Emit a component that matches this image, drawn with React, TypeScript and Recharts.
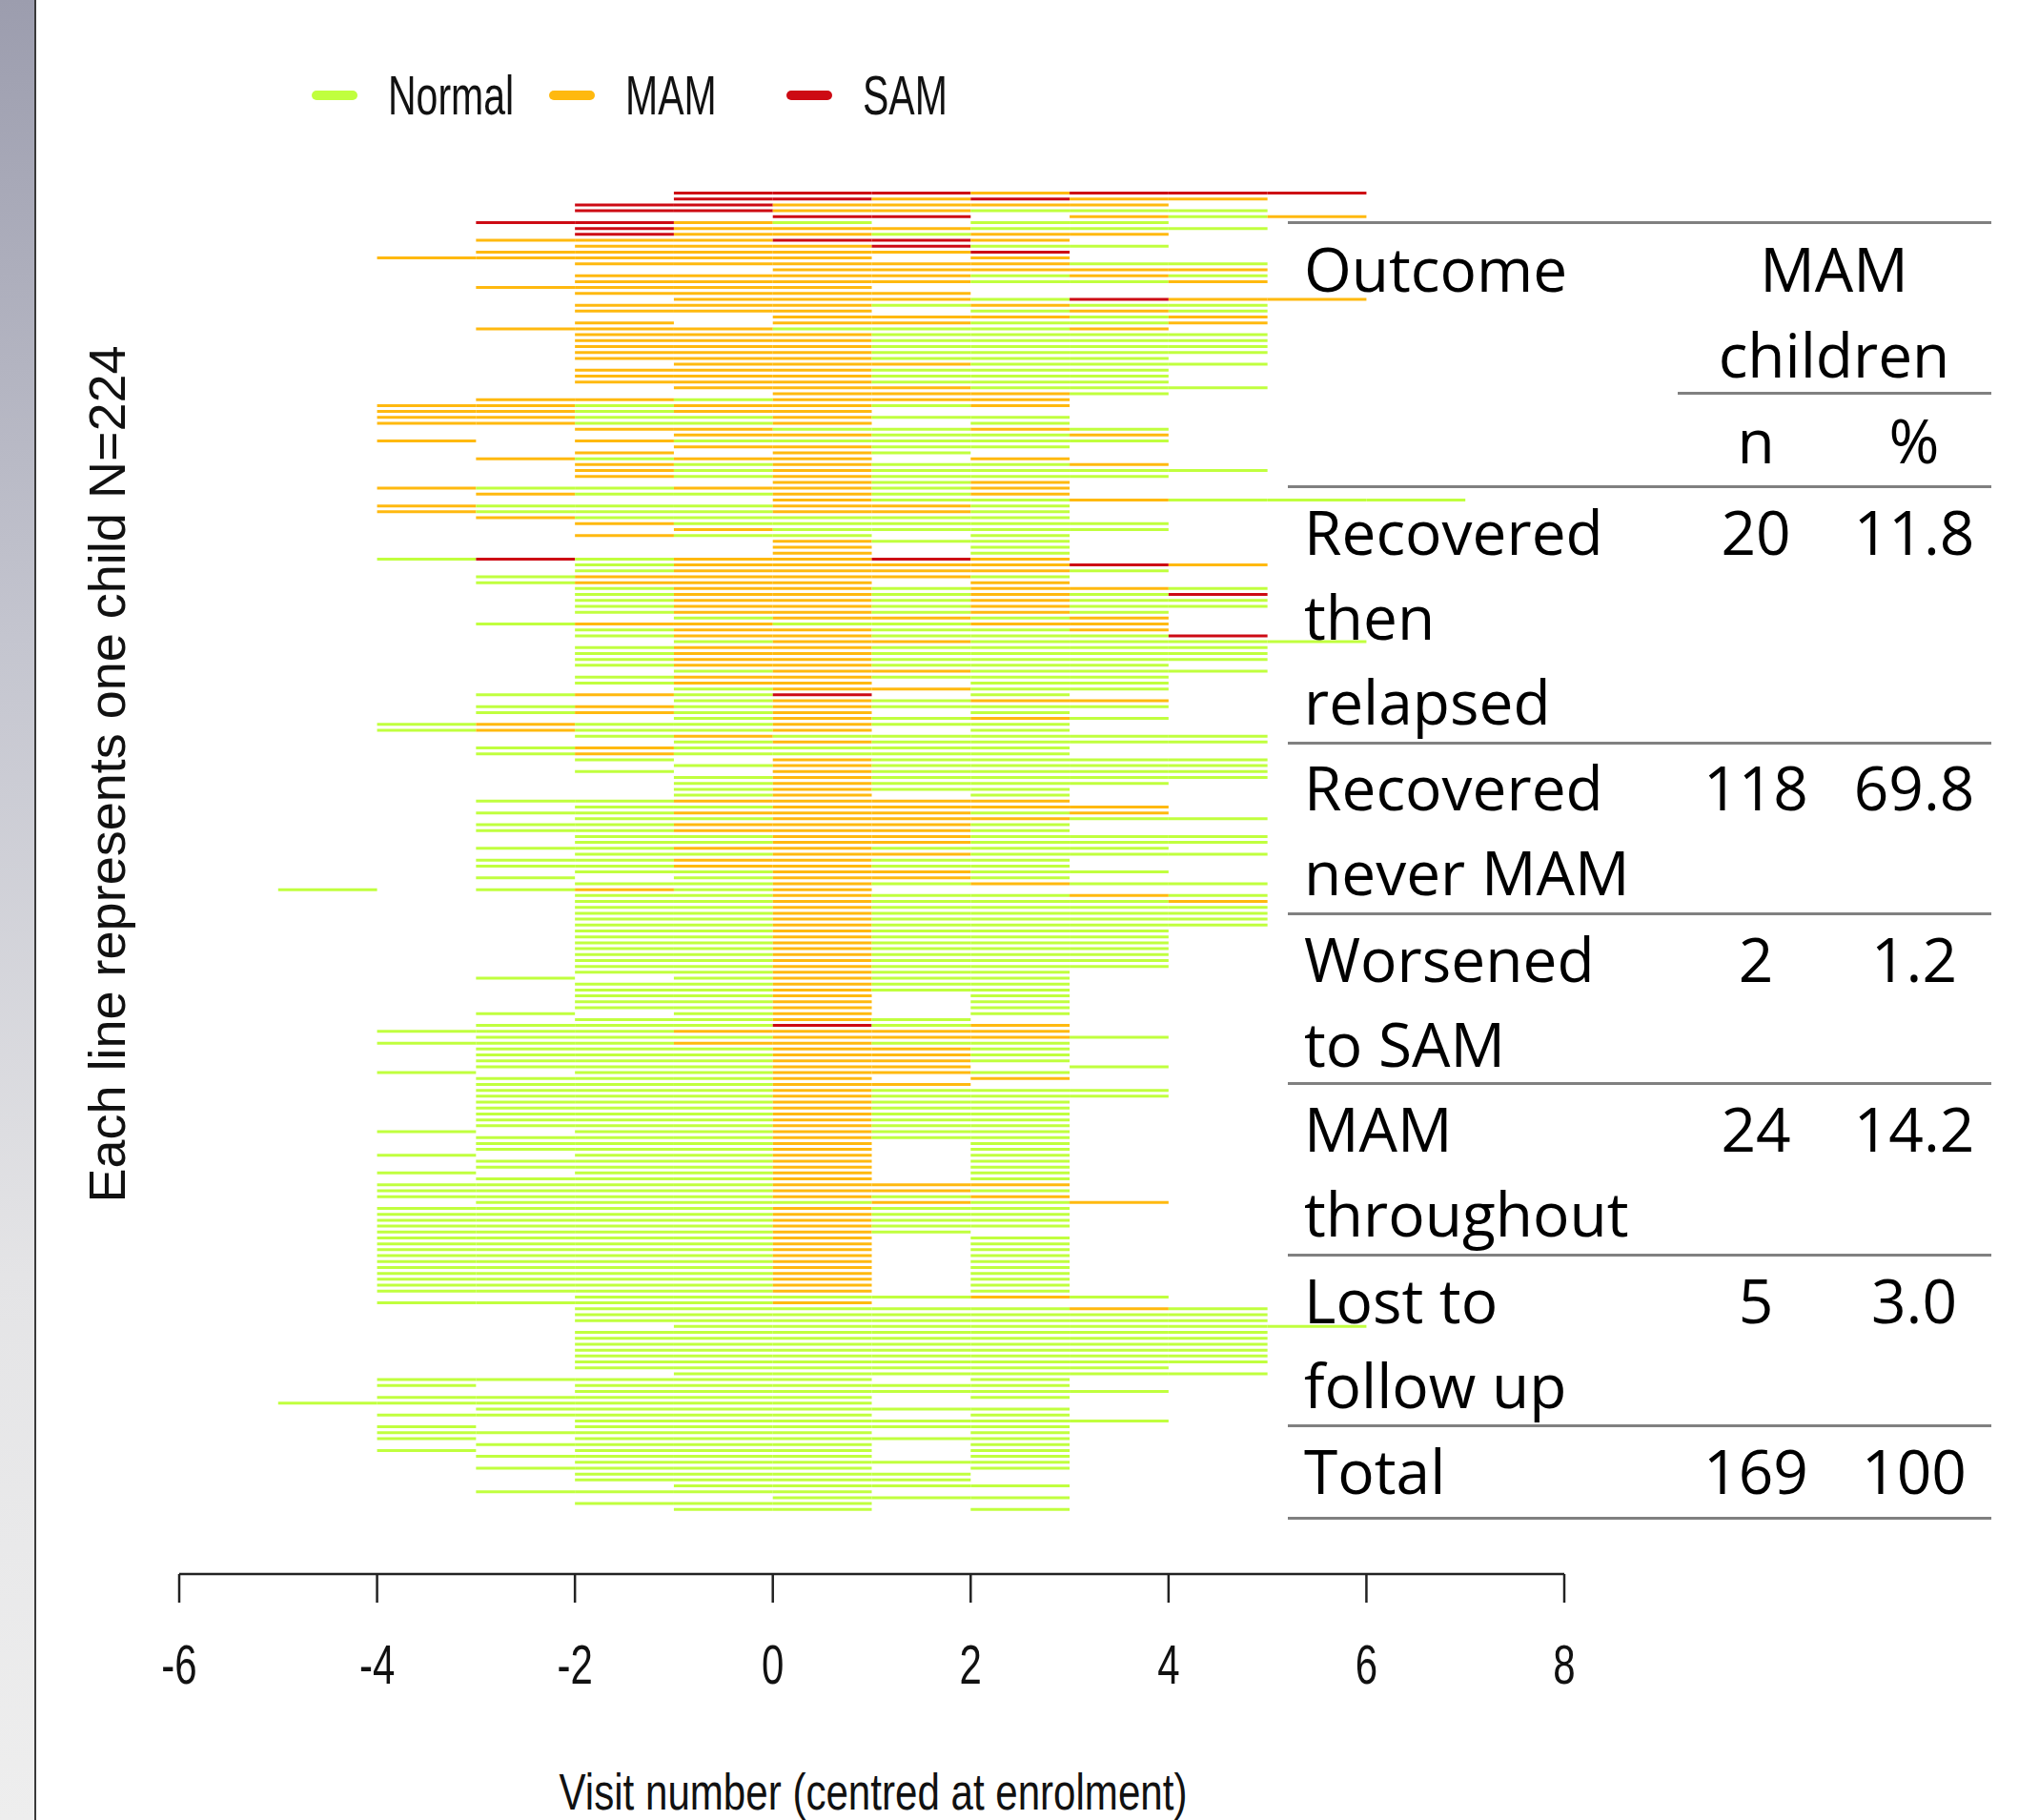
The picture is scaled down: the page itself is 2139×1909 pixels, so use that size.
import { BarChart, Bar, XAxis, YAxis, Cell } from 'recharts';

// one string per child: first visit, then the status over each visit interval
// N = Normal, M = MAM, S = SAM, _ = missed visit
const rowsTop = [
  '-1:SSSMSSS', '-1:SSMSMM', '-2:SSMMMM', '-2:SSMMNNN', '0:SS_MNM', '-3:SSMN_NN',
  '-2:SMMMNNN', '-2:SMMNMM', '-3:MMMSSM', '-2:MMMSNN', '-3:MMMMMS', '-4:MMMMM_M',
  '-2:MMMMMNN', '0:MMMMM', '-2:MMMMNMN', '-2:MMMMNNM', '-3:MMMM', '-2:MMMM',
  '-1:MMMNSMM', '-2:MMMNMNN', '-2:MMM_NMN', '0:MMMNM', '-2:M_MMNNM', '-3:MMMNNNM',
  '-2:MMMNNNN', '-2:MMMNNNN', '-2:MMMNNNN', '-2:MMMNNNN', '-2:MMMNNN', '-1:MMMNNN',
  '-2:MMMNNN', '-2:MMMNNN', '-2:MMMNNN', '-1:MMMNNN', '0:MMMN', '-3:MMNMMM',
  '-4:MMNMMNM', '-4:MMNMM', '-4:MMNNMNN', '-4:MMNNM_N', '-2:MMNNMN', '-1:MMNNM',
  '-4:M_MNNNNN', '-1:MMNN', '-2:M_MN', '-3:MNMM_M',
];

const rowsUpper = [
  '-2:MNMNNM', '-2:MNMNNNN', '-2:MNMNNN', '0:MNM', '-4:MNNMMNM', '-3:MNNMNM',
  '0:MNNMNNN', '-4:MNNNMMN', '-4:MNNNMMN', '-3:MNNNNN', '-2:MNNNNN', '-1:MNNNN',
  '-2:MNN_N', '0:MNN', '0:M_N', '0:M_N', '-4:NSNMMSM', '-2:NMMMMSM',
  '-2:NMMMMN', '-3:NMMMMN', '-3:NMMM_M', '-2:NMMNMMN', '-2:NMMNMNS', '-2:NMMNMNN',
  '-2:NMMNMNN', '-2:NMMNMN', '-1:NMMNM', '-3:NMMNNMM', '-2:NMMNNM', '-2:NMMNNNS',
  '-1:NMMNNNN', '-2:NMMNNNN', '-2:NMMNNNN', '-2:NMMNNNN', '-2:NMMNNN', '-1:NMMNNN',
  '-2:NMMNNN', '-2:NMM_NN', '-1:NMMNN', '-3:NMNS_N', '-1:NMNMM', '-3:NMNMNNN',
  '-3:NMNM_N', '-1:NMNMN', '-4:NMNNMNN', '-4:NMNNM_N', '-2:NMNNNNN',
];

const rowsMiddle = [
  '-1:NMNNNN', '-3:NMNNNN', '-3:NMNNNN', '-2:N_MNNNN', '-1:NMNNNN', '-2:N_MNNNN',
  '-1:NMNNNN', '-1:NMNNN', '-1:NMNN', '-1:NM_N', '-3:NNMMMM', '-2:NNMMMM',
  '-3:NNMMMNM', '-2:NNMMMNN', '-3:NNMMMN', '-3:NNMMMN', '-2:NNMMNNN', '-2:NNMMNNN',
  '-3:NNMMNNN', '-2:NNMMNNN', '-3:NNMMNN', '-3:NNMMNN', '-2:NNMMNN', '-3:N_NMMN',
  '-2:NNMNMNN', '-5:N_NMNM', '-2:NNMNNMN', '-2:NNMNNNM', '-2:NNMNNNN', '-2:NNMNNNN',
  '-2:NNMNNNN', '-2:NNMNNNN', '-2:NNMNNN', '-2:NNMNNN', '-2:NNMNNN', '-2:NNMNNN',
  '-2:NNMNNN', '-2:NNMNNN', '-2:NNMNNN', '-2:NNMNN', '-3:N_NMNN', '-2:NNMNN',
  '-2:NNMNN', '-2:NNM_N', '-2:NNM_N', '-2:NNM_N', '-3:N_NM_N', '-2:NNMN',
];

const rowsLower = [
  '-3:NNNSNM', '-4:NNNMMMM', '-3:NNNMMMN', '-4:NNNMMNN', '-3:NNNMMN', '-3:NNNMMN',
  '-3:NNNMMN', '-3:NNNMM_N', '-4:N_NNMMN', '-3:NNNM_M', '-3:NNNMM', '-3:NNNMNNN',
  '-3:NNNMNNN', '-3:NNNMNN', '-3:NNNMNN', '-3:NNNMNN', '-3:NNNMNN', '-3:NNNMNN',
  '-4:N_NNMNN', '-3:NNNMNN', '-3:NNNM_N', '-3:NNNM_N', '-4:N_NNM_N', '-3:NNNM_N',
  '-3:NNNM_N', '-4:N_NNM_N', '-3:NNNM_N', '-4:NNNNMMM', '-4:NNNNMMN', '-4:NNNNMNM',
  '-3:NNNNMNM', '-4:NNNNMNN', '-4:NNNNMNN', '-4:NNNNMNN', '-4:NNNNMNN', '-4:NNNNMN',
  '-4:NNNNM_N', '-4:NNNNM_N', '-4:NNNNM_N', '-4:NNNNM_N', '-4:NNNNM_N', '-4:NNNNM_N',
  '-4:NNNNM_N', '-4:NNNNM_N', '-4:NNNNM_N', '-4:NNNNM_N',
];

const rowsBottom = [
  '-2:NNNNMN', '-4:NNNNM', '-2:NNNNNMN', '-2:NNNNNNN', '-2:NNNNNNN', '-1:NNNNNNN',
  '-2:NNNNNNN', '-2:NNNNNNN', '-2:NNNNNNN', '-2:NNNNNNN', '-2:NNNNNNN', '-2:NNNNNNN',
  '-2:NNNNNN', '-1:NNNNNN', '-4:NNNNN_N', '-4:N_NNNNN', '-2:NNNNNN', '-4:NNNNN_N',
  '-5:NNNNNN', '-3:NNNNNN', '-4:NNNNN_N', '-2:NNNNNN', '-4:N_NNNNN', '-4:NNNNN_N',
  '-4:N_NNNNN', '-3:NNNN_N', '-4:N_NNN_N', '-3:NNNN_N', '-2:NNNNN', '-3:NNNN_N',
  '-2:NNNN', '-2:NNNN', '-1:NNNN', '-3:NNNN', '0:NNN', '-2:NNN', '-1:NN_N',
];

const xTicks = [-6, -4, -2, 0, 2, 4, 6, 8];
const legendItems = [
  { code: 'N', label: 'Normal' },
  { code: 'M', label: 'MAM' },
  { code: 'S', label: 'SAM' },
];

const outcomeLabels = [
  ['Recovered', 'then', 'relapsed'],
  ['Recovered', 'never MAM'],
  ['Worsened', 'to SAM'],
  ['MAM', 'throughout'],
  ['Lost to', 'follow up'],
  ['Total'],
];
const outcomeN = ['20', '118', '2', '24', '5', '169'];
const outcomePct = ['11.8', '69.8', '1.2', '14.2', '3.0', '100'];

const COLORS: Record<string, string> = { N: '#C0FF3E', M: '#FFB90F', S: '#CD0A14' };
const X_MIN = -6;
const N_INTERVALS = 14;

const allRows = [...rowsTop, ...rowsUpper, ...rowsMiddle, ...rowsLower, ...rowsBottom];

const data = allRows.map((r, i) => {
  const [s, codes] = r.split(':');
  const start = Number(s);
  const row: Record<string, any> = { id: i };
  codes.split('').forEach((c, j) => {
    if (c === '_') return;
    const k = start - X_MIN + j;
    row[`v${k}`] = [start + j, start + j + 1];
    row[`c${k}`] = c;
  });
  return row;
});

const intervals = Array.from({ length: N_INTERVALS }, (_, k) => k);

const rFont = "'Liberation Sans', Arial, sans-serif";
const tableFont = "'Open Sans', 'Noto Sans', sans-serif";

const ROW_H = 89;
const tableCenters = [557, 825, 1005, 1183, 1363, 1542];
const ruleYs = [510, 779, 958, 1136, 1316, 1495, 1592];

// R's tick labels look tall and narrow in the reference
function NarrowTick({ x, y, payload }: any) {
  return (
    <g transform={`translate(${x},${y})`}>
      <text
        transform="scale(0.84,1.15)"
        textAnchor="middle"
        dy="0.71em"
        fontSize={50}
        fontFamily={rFont}
        fill="#111"
      >
        {payload.value}
      </text>
    </g>
  );
}

function TableText({ x, y, text, align = 'left' }: { x: number; y: number; text: string; align?: string }) {
  const w = 500;
  const left = align === 'center' ? x - w / 2 : x;
  return (
    <div
      style={{
        position: 'absolute',
        left,
        top: y - ROW_H / 2,
        width: w,
        height: ROW_H,
        lineHeight: `${ROW_H}px`,
        textAlign: align as any,
        fontFamily: tableFont,
        fontSize: 64,
        color: '#000',
        whiteSpace: 'nowrap',
      }}
    >
      {text}
    </div>
  );
}

function Rule({ y, x1 = 1351, x2 = 2089 }: { y: number; x1?: number; x2?: number }) {
  return <div style={{ position: 'absolute', left: x1, top: y - 1.5, width: x2 - x1, height: 3, background: '#808080' }} />;
}

export default function App() {
  return (
    <div style={{ position: 'absolute', left: 0, top: 0, width: 2139, height: 1909, background: '#fff', overflow: 'hidden' }}>
      {/* slide edge */}
      <div
        style={{
          position: 'absolute', left: 0, top: 0, width: 36, height: 1909,
          background: 'linear-gradient(to bottom, #9c9dae 0%, #c4c5cf 35%, #e4e4e6 70%, #eeeeee 100%)',
          borderRight: '2px solid #3a3a3a',
        }}
      />

      <div style={{ position: 'absolute', left: 0, top: 0 }}>
        <BarChart
          width={1700}
          height={1909}
          data={data}
          layout="vertical"
          barSize={3}
          barGap={-3}
          margin={{ top: 199, right: 59, left: 188, bottom: 0 }}
        >
          <XAxis
            type="number"
            domain={[-6, 8]}
            allowDataOverflow
            ticks={xTicks}
            height={258}
            tickSize={30}
            tickMargin={44}
            axisLine={{ stroke: '#222', strokeWidth: 2.5 }}
            tickLine={{ stroke: '#222', strokeWidth: 2.5 }}
            tick={<NarrowTick />}
          />
          <YAxis type="category" dataKey="id" hide padding={{ top: 0, bottom: 65 }} />
          {intervals.map((k) => (
            <Bar key={k} dataKey={`v${k}`} isAnimationActive={false}>
              {data.map((d) => (
                <Cell key={d.id} fill={COLORS[d[`c${k}`]] ?? 'none'} />
              ))}
            </Bar>
          ))}
        </BarChart>
      </div>

      {/* legend */}
      {legendItems.map((item, i) => {
        const sx = [327, 576, 825][i];
        return (
          <div key={item.code}>
            <div style={{ position: 'absolute', left: sx, top: 95, width: 48, height: 10, borderRadius: 5, background: COLORS[item.code] }} />
            <div
              style={{
                position: 'absolute', left: sx + 80, top: 70, height: 60, lineHeight: '60px',
                fontFamily: rFont, fontSize: 50, color: '#111', whiteSpace: 'nowrap',
                transform: 'scale(0.82,1.15)', transformOrigin: '0 50%',
              }}
            >
              {item.label}
            </div>
          </div>
        );
      })}

      {/* axis titles */}
      <div
        style={{
          position: 'absolute', left: 916 - 500, top: 1852, width: 1000, height: 56, lineHeight: '56px',
          textAlign: 'center', fontFamily: rFont, fontSize: 46, color: '#111', whiteSpace: 'nowrap',
          transform: 'scale(0.915,1.15)', transformOrigin: '50% 50%',
        }}
      >
        Visit number (centred at enrolment)
      </div>
      <div
        style={{
          position: 'absolute', left: 112 - 600, top: 812 - 30, width: 1200, height: 60, lineHeight: '60px',
          textAlign: 'center', fontFamily: rFont, fontSize: 54, color: '#111', whiteSpace: 'nowrap',
          transform: 'rotate(-90deg)', transformOrigin: '50% 50%',
        }}
      >
        Each line represents one child N=224
      </div>

      {/* outcome table */}
      <Rule y={233} />
      <Rule y={412} x1={1760} />
      {ruleYs.map((y) => (
        <Rule key={y} y={y} />
      ))}
      <TableText x={1368} y={281} text="Outcome" />
      <TableText x={1924} y={281} text="MAM" align="center" />
      <TableText x={1924} y={371} text="children" align="center" />
      <TableText x={1842} y={461} text="n" align="center" />
      <TableText x={2008} y={461} text="%" align="center" />
      {outcomeLabels.map((lines, i) => (
        <div key={i}>
          {lines.map((t, j) => (
            <TableText key={j} x={1368} y={tableCenters[i] + j * ROW_H} text={t} />
          ))}
          <TableText x={1842} y={tableCenters[i]} text={outcomeN[i]} align="center" />
          <TableText x={2008} y={tableCenters[i]} text={outcomePct[i]} align="center" />
        </div>
      ))}
    </div>
  );
}
